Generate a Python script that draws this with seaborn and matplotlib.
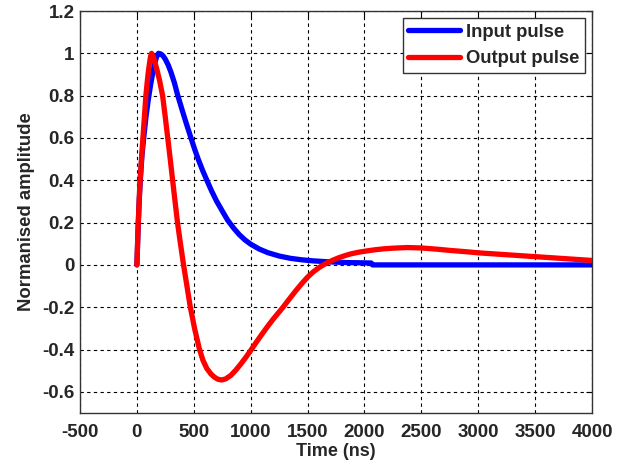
import matplotlib
matplotlib.use("Agg")
import matplotlib.pyplot as plt
import seaborn as sns
import pandas as pd

# Input pulse (time in ns, normalised amplitude)
input_t = [0, 5, 10, 20, 30, 45, 60, 80, 100, 120, 140, 160, 175, 190, 210,
           230, 250, 275, 300, 330, 357, 400, 437, 474, 507, 540, 578, 615,
           657, 700, 750, 797, 850, 900, 950, 1000, 1075, 1150, 1250, 1350,
           1450, 1550, 1700, 1850, 2000, 2060, 2070, 2500, 3000, 3500, 4000]
input_v = [0, 0.08, 0.16, 0.3, 0.4, 0.52, 0.6, 0.7, 0.78, 0.85, 0.91, 0.96,
           0.985, 1.0, 0.997, 0.988, 0.972, 0.945, 0.91, 0.86, 0.805, 0.728,
           0.664, 0.602, 0.548, 0.498, 0.446, 0.4, 0.349, 0.302, 0.255, 0.212,
           0.174, 0.143, 0.118, 0.098, 0.075, 0.058, 0.042, 0.031, 0.024,
           0.019, 0.014, 0.011, 0.0095, 0.009, 0.0, 0.0, 0.0, 0.0, 0.0]

# Output pulse
output_t = [0, 3, 12, 28, 53, 79, 90, 100, 110, 120, 129, 140, 155, 175, 200,
            226, 248, 270, 292, 313, 335, 357, 383, 410, 440, 469, 508, 548,
            580, 615, 650, 680, 710, 744, 780, 826, 870, 914, 960, 1002, 1050,
            1100, 1150, 1200, 1280, 1353, 1400, 1456, 1500, 1550, 1600, 1630,
            1676, 1730, 1780, 1830, 1880, 1950, 2020, 2100, 2172, 2250, 2379,
            2500, 2643, 2760, 2900, 3000, 3250, 3500, 3750, 4000]
output_v = [0, 0.05, 0.2, 0.4, 0.6, 0.8, 0.86, 0.91, 0.95, 0.985, 1.0, 0.99,
            0.965, 0.925, 0.87, 0.8, 0.705, 0.605, 0.505, 0.405, 0.302, 0.2,
            0.1, 0.0, -0.1, -0.198, -0.303, -0.395, -0.45, -0.49, -0.515,
            -0.53, -0.54, -0.544, -0.539, -0.522, -0.497, -0.468, -0.435,
            -0.403, -0.365, -0.327, -0.29, -0.255, -0.203, -0.152, -0.12,
            -0.084, -0.058, -0.033, -0.013, -0.003, 0.011, 0.024, 0.035,
            0.044, 0.052, 0.06, 0.066, 0.072, 0.076, 0.079, 0.082, 0.08,
            0.074, 0.068, 0.062, 0.057, 0.048, 0.039, 0.03, 0.021]

series_names = ["Input pulse", "Output pulse"]
series_colors = ["#0000FF", "#FF0000"]

x_ticks = [-500, 0, 500, 1000, 1500, 2000, 2500, 3000, 3500, 4000]
y_ticks = [-0.6, -0.4, -0.2, 0, 0.2, 0.4, 0.6, 0.8, 1, 1.2]
y_tick_labels = ["-0.6", "-0.4", "-0.2", "0", "0.2", "0.4", "0.6", "0.8", "1", "1.2"]

df = pd.concat([
    pd.DataFrame({"t": input_t, "v": input_v, "s": series_names[0]}),
    pd.DataFrame({"t": output_t, "v": output_v, "s": series_names[1]}),
], ignore_index=True)

sns.set_style("white")
plt.rcParams["font.family"] = ["Liberation Sans", "DejaVu Sans"]
plt.rcParams["font.weight"] = "bold"

fig = plt.figure(figsize=(6.22, 4.62), dpi=100)
ax = fig.add_axes([80 / 622, 49 / 462, 512 / 622, 402 / 462])

sns.lineplot(data=df, x="t", y="v", hue="s", palette=series_colors,
             estimator=None, sort=False, linewidth=3.8, ax=ax, zorder=3)

ax.set_xlim(-500, 4000)
ax.set_ylim(-0.7, 1.2)
ax.set_xticks(x_ticks)
ax.set_xticklabels([str(v) for v in x_ticks])
ax.set_yticks(y_ticks)
ax.set_yticklabels(y_tick_labels)
ax.tick_params(axis="both", labelsize=13.5, direction="in", length=4,
               color="black", width=0.8, top=True, right=True, pad=4)
ax.tick_params(axis="x", pad=8)
for lab in ax.get_xticklabels() + ax.get_yticklabels():
    lab.set_fontweight("bold")

ax.grid(True, color="black", linestyle=(0, (3, 3)), linewidth=0.8, zorder=1)
for sp in ax.spines.values():
    sp.set_color("#333333")
    sp.set_linewidth(1.0)
    sp.set_visible(True)

ax.set_xlabel("Time (ns)", fontsize=13, fontweight="bold", labelpad=1.5)
ax.set_ylabel("Normanised amplitude", fontsize=13.3, fontweight="bold", labelpad=5)

leg = ax.legend(loc="upper right", fontsize=13.3, frameon=True, fancybox=False,
                edgecolor="#333333", framealpha=1, handlelength=2.8,
                borderaxespad=0.4, labelspacing=0.5, handletextpad=0.3,
                borderpad=0.3)
leg.get_frame().set_linewidth(1.0)
for txt in leg.get_texts():
    txt.set_fontweight("bold")
for line in leg.get_lines():
    line.set_linewidth(3.8)

fig.savefig("out.png", dpi=100)
